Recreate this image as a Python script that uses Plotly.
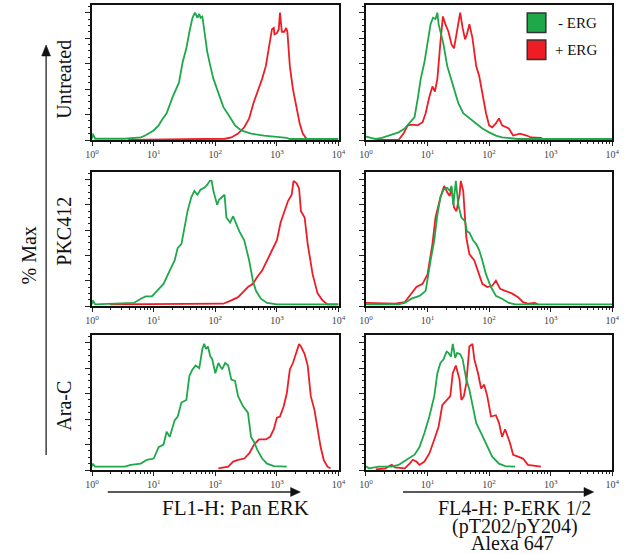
import plotly.graph_objects as go

W, H = 634, 554
GREEN = "#1ea84a"
RED = "#ee1c25"
FONT = "Liberation Serif"

# ---- data: x in log10(fluorescence) units, y in % of max ----
# Untreated / Pan ERK
P1G_LX = [0.0, 0.01, 0.05, 0.53, 0.79, 0.84, 1.0, 1.08, 1.13, 1.21, 1.31, 1.37, 1.41, 1.47, 1.53, 1.58,
          1.63, 1.67, 1.71, 1.74, 1.76, 1.79, 1.82, 1.87, 1.92, 1.97, 2.05, 2.13, 2.21, 2.32, 2.42, 2.58,
          2.79, 3.0, 3.16, 3.21, 4.0]
P1G_Y = [1, 5, 1, 1, 2, 3, 7.5, 11.5, 15.5, 21, 34, 40, 45, 61, 72, 85,
         96, 100, 96, 99, 96, 97, 85, 69, 58, 48, 37, 26, 20, 11.5, 7.5, 5,
         3.5, 2.7, 1.6, 0.8, 0.8]
P1R_LX = [0.58, 2.16, 2.26, 2.37, 2.47, 2.55, 2.62, 2.68, 2.76, 2.82, 2.87, 2.92, 2.95, 2.96, 3.0, 3.03,
          3.05, 3.08, 3.12, 3.15, 3.17, 3.21, 3.26, 3.32, 3.37, 3.42, 3.47, 3.53]
P1R_Y = [0, 1, 2, 5, 10, 17, 29, 37, 48, 58, 72, 87, 88, 83, 84, 87,
         100, 85, 85, 88, 85, 58, 40, 24, 13, 5, 1.6, 0]

# Untreated / P-ERK
P2G_LX = [0.0, 0.01, 0.08, 0.16, 0.26, 0.37, 0.53, 0.63, 0.74, 0.79, 0.84, 0.89, 0.95, 1.0, 1.05, 1.09,
          1.13, 1.16, 1.18, 1.21, 1.26, 1.32, 1.37, 1.42, 1.5, 1.58, 1.68, 1.79, 1.89, 2.0, 2.11, 2.21,
          2.32, 2.47, 4.0]
P2G_Y = [3, 2.7, 1.6, 0.8, 1.6, 3.5, 6, 9, 15.5, 18, 32, 48, 61, 75, 91, 96,
         95, 100, 91, 85, 75, 58, 50, 42, 29, 21, 17, 13, 9, 6, 3.5, 2,
         1.3, 0.8, 0.8]
P2R_LX = [0.16, 0.53, 0.61, 0.68, 0.76, 0.84, 0.92, 0.97, 1.03, 1.08, 1.12, 1.16, 1.21, 1.25, 1.29, 1.34,
          1.39, 1.43, 1.47, 1.53, 1.57, 1.61, 1.64, 1.68, 1.73, 1.79, 1.84, 1.89, 1.95, 2.0, 2.05, 2.11,
          2.16, 2.21, 2.32, 2.39, 2.5, 2.61, 2.68, 2.84, 2.89]
P2R_Y = [0, 0, 5, 11.5, 12, 11.5, 14, 21, 34, 42, 38, 48, 77, 97, 91, 85,
         75, 72, 83, 100, 88, 79, 83, 91, 80, 58, 50, 37, 21, 11.5, 10, 13,
         17, 11.5, 9, 3.5, 5, 3.5, 2, 1.6, 0]

# PKC412 / Pan ERK
P3G_LX = [0.0, 0.01, 0.05, 0.26, 0.68, 0.79, 0.87, 0.97, 1.05, 1.16, 1.26, 1.34, 1.39, 1.45, 1.5, 1.55,
          1.61, 1.66, 1.71, 1.76, 1.82, 1.87, 1.91, 1.94, 1.97, 2.03, 2.06, 2.11, 2.15, 2.18, 2.24, 2.29,
          2.34, 2.39, 2.47, 2.55, 2.61, 2.66, 2.74, 2.84, 3.0, 4.0]
P3G_Y = [1.3, 4.5, 1.3, 1.8, 2.4, 5.8, 7.6, 7.6, 12, 17.5, 28, 36, 46, 49, 62, 75,
         86, 91, 88, 92, 93.5, 96, 99, 99, 91, 80, 84, 86, 88, 70, 66, 71,
         65, 59, 52, 36, 20, 12, 5.8, 2.4, 1.3, 1.3]
P3R_LX = [0.29, 2.11, 2.13, 2.26, 2.37, 2.45, 2.53, 2.61, 2.68, 2.76, 2.84, 2.92, 3.0, 3.06, 3.13, 3.18,
          3.24, 3.27, 3.32, 3.36, 3.39, 3.45, 3.5, 3.58, 3.66, 3.74, 3.82, 4.0]
P3R_Y = [1.3, 1.3, 1.8, 4.5, 7, 11, 15, 17.5, 23, 28, 36, 44, 52, 66, 75, 83,
         88, 99, 97, 93, 75, 70, 49, 25, 10, 4.5, 1.3, 1.3]

# PKC412 / P-ERK
P4G_LX = [0.0, 0.01, 0.53, 0.63, 0.74, 0.87, 0.97, 1.05, 1.11, 1.16, 1.21, 1.26, 1.32, 1.36, 1.39, 1.42,
          1.46, 1.5, 1.55, 1.61, 1.64, 1.68, 1.74, 1.79, 1.84, 1.89, 1.95, 2.03, 2.11, 2.21, 2.32, 2.42, 4.0]
P4G_Y = [1.3, 1.3, 1.3, 2.4, 5.8, 8, 12, 36, 52, 72, 86, 92, 93.5, 91, 95, 80,
         99, 80, 70, 67, 59, 58, 52, 49, 44, 36, 25, 15, 8, 5.8, 2.4, 1.3, 1.3]
P4R_LX = [0.0, 0.01, 0.08, 0.47, 0.63, 0.74, 0.82, 0.92, 1.0, 1.08, 1.13, 1.21, 1.27, 1.32, 1.36, 1.39,
          1.43, 1.47, 1.52, 1.54, 1.58, 1.63, 1.68, 1.76, 1.82, 1.89, 1.97, 2.05, 2.11, 2.18, 2.26, 2.37,
          2.47, 2.55, 2.63, 2.74, 2.79]
P4R_Y = [2.4, 2.4, 1.8, 1.8, 3, 10, 15, 17.5, 25, 49, 70, 86, 95, 90, 87, 93.5,
         78, 75, 88, 99, 91, 54, 41, 36, 28, 17.5, 15, 16, 20, 13.6, 12, 10,
         7, 3, 1.8, 2.4, 1.3]

# Ara-C / Pan ERK
P5G_LX = [0.0, 0.01, 0.05, 0.53, 0.63, 0.79, 0.89, 1.0, 1.08, 1.16, 1.21, 1.26, 1.34, 1.39, 1.45, 1.53,
          1.58, 1.63, 1.68, 1.74, 1.79, 1.82, 1.85, 1.88, 1.92, 1.95, 2.0, 2.05, 2.11, 2.16, 2.21, 2.26,
          2.32, 2.37, 2.45, 2.53, 2.58, 2.63, 2.68, 2.76, 2.84, 2.95, 3.16]
P5G_Y = [2.6, 5, 2.6, 2.6, 4, 5, 8, 9, 18, 20, 30, 26, 39, 42, 53, 55,
         74, 79, 82, 80, 95, 99, 95, 97, 89, 87, 76, 84, 79, 84, 82, 71,
         70, 58, 50, 45, 26, 22, 16, 9, 5, 3, 2.6]
P5R_LX = [2.05, 2.21, 2.29, 2.37, 2.47, 2.55, 2.63, 2.71, 2.82, 2.89, 2.95, 3.0, 3.05, 3.11, 3.16, 3.21,
          3.26, 3.32, 3.36, 3.39, 3.45, 3.5, 3.55, 3.61, 3.66, 3.71, 3.76, 3.82, 3.87]
P5R_Y = [1.3, 2.6, 6.6, 8, 9, 13, 20, 24, 24, 26, 32, 41, 42, 50, 60, 79,
         84, 92, 99, 97, 91, 82, 58, 47, 32, 18, 8, 2.6, 1.3]

# Ara-C / P-ERK
P6G_LX = [0.0, 0.01, 0.05, 0.21, 0.42, 0.53, 0.66, 0.79, 0.87, 0.95, 1.03, 1.11, 1.16, 1.21, 1.26, 1.31,
          1.34, 1.38, 1.41, 1.45, 1.48, 1.53, 1.57, 1.63, 1.68, 1.74, 1.79, 1.87, 1.95, 2.05, 2.16, 2.26, 2.42]
P6G_Y = [2.6, 2.6, 1.3, 2.6, 2.6, 4, 8, 12, 18, 29, 42, 58, 76, 84, 87, 93,
         92, 89, 99, 88, 92, 91, 87, 71, 63, 50, 37, 29, 21, 10.5, 5, 3, 2.6]
P6R_LX = [0.16, 0.32, 0.37, 0.42, 0.47, 0.63, 0.71, 0.76, 0.82, 0.87, 0.95, 1.03, 1.11, 1.18, 1.24, 1.32,
          1.37, 1.41, 1.46, 1.52, 1.55, 1.59, 1.63, 1.68, 1.73, 1.76, 1.82, 1.87, 1.92, 1.97, 2.03, 2.11,
          2.16, 2.21, 2.26, 2.34, 2.39, 2.47, 2.55, 2.63, 2.76, 2.84]
P6R_Y = [0.5, 1.3, 3, 4, 2, 1.3, 5, 8, 6.6, 4, 6.6, 13, 24, 34, 51, 55,
         58, 76, 82, 71, 55, 58, 68, 97, 99, 87, 76, 64, 67, 58, 42, 43,
         37, 26, 32, 21, 12, 10.5, 9, 4, 3, 2.6]

ROW_LABELS = ["Untreated", "PKC412", "Ara-C"]
X_TICKVALS = [1, 10, 100, 1000, 10000]
X_TICKTEXT = ["10<sup>0</sup>", "10<sup>1</sup>", "10<sup>2</sup>", "10<sup>3</sup>", "10<sup>4</sup>"]
X_MINOR = [m * 10 ** d for d in range(4) for m in range(2, 10)]
SERIES_NAMES = ["- ERG", "+ ERG"]

PANELS = [
    (P1G_LX, P1G_Y, P1R_LX, P1R_Y),
    (P2G_LX, P2G_Y, P2R_LX, P2R_Y),
    (P3G_LX, P3G_Y, P3R_LX, P3R_Y),
    (P4G_LX, P4G_Y, P4R_LX, P4R_Y),
    (P5G_LX, P5G_Y, P5R_LX, P5R_Y),
    (P6G_LX, P6G_Y, P6R_LX, P6R_Y),
]

def px(x):
    return x / W

def py(y):
    return 1 - y / H

COL_DOM = [(87, 339), (367, 619)]
ROW_DOM = [(5, 140), (172, 306), (335, 470)]

fig = go.Figure()
layout = {}
for i, (glx, gy, rlx, ry) in enumerate(PANELS):
    n = i + 1
    r, c = divmod(i, 2)
    xs = "" if n == 1 else str(n)
    fig.add_trace(go.Scatter(x=[10 ** v for v in rlx], y=ry, mode="lines", name=SERIES_NAMES[1],
                             line=dict(color=RED, width=1.8), xaxis="x" + xs, yaxis="y" + xs,
                             showlegend=False))
    fig.add_trace(go.Scatter(x=[10 ** v for v in glx], y=gy, mode="lines", name=SERIES_NAMES[0],
                             line=dict(color=GREEN, width=1.8), xaxis="x" + xs, yaxis="y" + xs,
                             showlegend=False))
    x0, x1 = COL_DOM[c]
    y0, y1 = ROW_DOM[r]
    layout["xaxis" + xs] = dict(
        domain=[px(x0), px(x1)], anchor="y" + xs, type="log", range=[0, 4],
        tickmode="array", tickvals=X_TICKVALS, ticktext=X_TICKTEXT,
        ticks="outside", ticklen=4, tickwidth=1, tickcolor="#222",
        minor=dict(tickmode="array", tickvals=X_MINOR, ticks="outside", ticklen=2.5,
                   tickwidth=1, tickcolor="#222"),
        showline=True, mirror=True, linecolor="#111", linewidth=1.6,
        showgrid=False, zeroline=False,
        tickfont=dict(family=FONT, size=10, color="#444"),
    )
    layout["yaxis" + xs] = dict(
        domain=[py(y1), py(y0)], anchor="x" + xs, range=[0, 106],
        tickmode="array", tickvals=[0, 20, 40, 60, 80, 100],
        ticks="outside", ticklen=5, tickwidth=1, tickcolor="#222",
        minor=dict(dtick=5, ticks="outside", ticklen=2.5, tickwidth=1, tickcolor="#222"),
        showticklabels=False, showline=True, mirror=True, linecolor="#111", linewidth=1.6,
        showgrid=False, zeroline=False,
    )

shapes = []
annotations = []

# legend in top-right panel
for col, lab, yy, tx in [(GREEN, SERIES_NAMES[0], 13, 561), (RED, SERIES_NAMES[1], 40, 558)]:
    shapes.append(dict(type="rect", xref="paper", yref="paper",
                       x0=px(532), x1=px(551), y0=py(yy + 19.5), y1=py(yy),
                       fillcolor=col, line=dict(color="#333", width=1.5)))
    annotations.append(dict(xref="paper", yref="paper", x=px(tx), y=py(yy + 10),
                            text=lab, showarrow=False, xanchor="left", yanchor="middle",
                            font=dict(family=FONT, size=15, color="#111")))

# row labels
for lab, yc in zip(ROW_LABELS, [79, 231, 406]):
    annotations.append(dict(xref="paper", yref="paper", x=px(58), y=py(yc), text=lab,
                            textangle=-90, showarrow=False, xanchor="center", yanchor="middle",
                            font=dict(family=FONT, size=20, color="#111")))

annotations.append(dict(xref="paper", yref="paper", x=px(22), y=py(256), text="% Max",
                        textangle=-90, showarrow=False, xanchor="center", yanchor="middle",
                        font=dict(family=FONT, size=20, color="#111")))

for txt, xc, yc, fs in [("FL1-H: Pan ERK", 234, 508, 21),
                        ("FL4-H: P-ERK 1/2", 519, 508, 20),
                        ("(pT202/pY204)", 519, 526, 20),
                        ("Alexa 647", 517, 543, 20)]:
    annotations.append(dict(xref="paper", yref="paper", x=px(xc), y=py(yc), text=txt,
                            showarrow=False, xanchor="center", yanchor="middle",
                            font=dict(family=FONT, size=fs, color="#111")))

# axis arrows
def hline_arrow(xa, xb, y):
    shapes.append(dict(type="line", xref="paper", yref="paper", x0=px(xa), x1=px(xb - 8),
                       y0=py(y), y1=py(y), line=dict(color="#222", width=1.3)))
    shapes.append(dict(type="path", xref="paper", yref="paper",
                       path=f"M {px(xb)} {py(y)} L {px(xb - 10)} {py(y - 4.5)} L {px(xb - 10)} {py(y + 4.5)} Z",
                       fillcolor="#111", line=dict(color="#111", width=0.5)))

hline_arrow(103, 300, 492)
hline_arrow(405, 600, 492)

shapes.append(dict(type="line", xref="paper", yref="paper", x0=px(40), x1=px(40),
                   y0=py(455), y1=py(54), line=dict(color="#222", width=1.3)))
shapes.append(dict(type="path", xref="paper", yref="paper",
                   path=f"M {px(40)} {py(45)} L {px(35.5)} {py(56)} L {px(44.5)} {py(56)} Z",
                   fillcolor="#111", line=dict(color="#111", width=0.5)))

fig.update_layout(
    width=W, height=H, margin=dict(l=0, r=0, t=0, b=0),
    paper_bgcolor="white", plot_bgcolor="white",
    shapes=shapes, annotations=annotations, showlegend=False,
    **layout,
)

fig.write_html("out.html", config={"displayModeBar": False},
               post_script="document.body.style.margin='0px';")
